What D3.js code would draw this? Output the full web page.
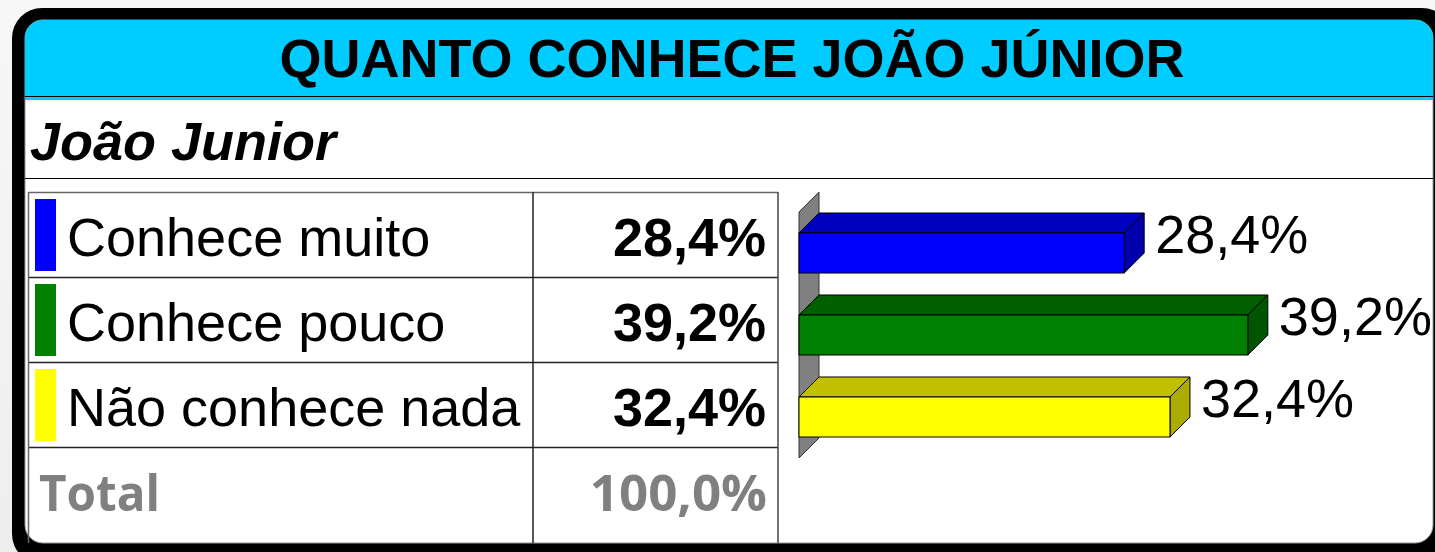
<!DOCTYPE html>
<html>
<head>
<meta charset="utf-8">
<script src="https://cdn.jsdelivr.net/npm/d3@7"></script>
<style>
  body { margin: 0; background: #f1f1f1; }
  svg { display: block; }
</style>
</head>
<body>
<script>
// chart data
var title = "QUANTO CONHECE JOÃO JÚNIOR"
var subtitle = "João Junior"
var categories = ["Conhece muito", "Conhece pouco", "Não conhece nada"]
var values = [28.4, 39.2, 32.4]
var totalLabel = "Total"

var width = 1435, height = 552

var fmt = function(v) { return v.toFixed(1).replace(".", ",") + "%" }

var color = d3.scaleOrdinal()
    .domain(categories)
    .range(["#0000FF", "#008000", "#FFFF00"])

var svg = d3.select("body").append("svg")
    .attr("width", width)
    .attr("height", height)

// soft background
var grad = svg.append("defs").append("linearGradient")
    .attr("id", "bg").attr("x1", 0).attr("y1", 0).attr("x2", 0).attr("y2", 1)
grad.append("stop").attr("offset", 0).attr("stop-color", "#f7f7f7")
grad.append("stop").attr("offset", 1).attr("stop-color", "#eeeeee")
svg.append("rect").attr("width", width).attr("height", height).attr("fill", "url(#bg)")

// frame
svg.append("rect")
    .attr("x", 12).attr("y", 8)
    .attr("width", 1440).attr("height", 556)
    .attr("rx", 30)
    .attr("fill", "#000")

svg.append("rect")
    .attr("x", 25).attr("y", 20)
    .attr("width", 1408).attr("height", 523)
    .attr("rx", 18)
    .attr("fill", "#fff")
    .attr("stroke", "#999")
    .attr("stroke-width", 1)

// header band
var clip = svg.append("defs").append("clipPath").attr("id", "inner")
clip.append("rect").attr("x", 25).attr("y", 20).attr("width", 1408).attr("height", 523).attr("rx", 18)

svg.append("rect")
    .attr("clip-path", "url(#inner)")
    .attr("x", 25).attr("y", 20)
    .attr("width", 1408).attr("height", 80)
    .attr("fill", "#00CCFF")

svg.append("line")
    .attr("x1", 25).attr("x2", 1433)
    .attr("y1", 96.5).attr("y2", 96.5)
    .attr("stroke", "#000").attr("stroke-width", 1)

svg.append("text")
    .attr("x", 732).attr("y", 77)
    .attr("text-anchor", "middle")
    .style("font-family", "'Liberation Sans', Arial, sans-serif")
    .style("font-weight", "bold")
    .style("font-size", "54px")
    .text(title)

// subtitle
svg.append("text")
    .attr("x", 30).attr("y", 160)
    .style("font-family", "'Liberation Sans', Arial, sans-serif")
    .style("font-weight", "bold")
    .style("font-style", "italic")
    .style("font-size", "54px")
    .text(subtitle)

svg.append("line")
    .attr("x1", 25).attr("x2", 1433)
    .attr("y1", 178.5).attr("y2", 178.5)
    .attr("stroke", "#000").attr("stroke-width", 1)

// table
var rows = categories.concat([totalLabel])
var rowScale = d3.scaleBand()
    .domain(rows)
    .range([192, 532])

var tableLeft = 28, colDiv = 533, tableRight = 778

var tg = svg.append("g")

rows.forEach(function(r, i) {
  tg.append("line")
      .attr("x1", tableLeft).attr("x2", tableRight)
      .attr("y1", rowScale(r) + 0.5).attr("y2", rowScale(r) + 0.5)
      .attr("stroke", i == 0 ? "#666" : "#222").attr("stroke-width", 1.5)
})

tg.append("line")
    .attr("x1", tableLeft + 0.5).attr("x2", tableLeft + 0.5)
    .attr("y1", 192).attr("y2", 543)
    .attr("stroke", "#666").attr("stroke-width", 1.5)
tg.append("line")
    .attr("x1", colDiv).attr("x2", colDiv)
    .attr("y1", 192).attr("y2", 543)
    .attr("stroke", "#222").attr("stroke-width", 1.5)
tg.append("line")
    .attr("x1", tableRight).attr("x2", tableRight)
    .attr("y1", 192).attr("y2", 543)
    .attr("stroke", "#444").attr("stroke-width", 1.5)

// legend swatches
tg.selectAll(".swatch")
    .data(categories)
    .enter().append("rect")
    .attr("class", "swatch")
    .attr("x", 35)
    .attr("y", function(d) { return rowScale(d) + 7 })
    .attr("width", 21)
    .attr("height", rowScale.bandwidth() - 13)
    .attr("fill", function(d) { return color(d) })

tg.selectAll(".label")
    .data(categories)
    .enter().append("text")
    .attr("class", "label")
    .attr("x", 67)
    .attr("y", function(d) { return rowScale(d) + 64 })
    .style("font-family", "'Liberation Sans', Arial, sans-serif")
    .style("font-size", "54px")
    .text(function(d) { return d })

tg.selectAll(".val")
    .data(values)
    .enter().append("text")
    .attr("class", "val")
    .attr("x", 766)
    .attr("y", function(d, i) { return rowScale(categories[i]) + 64 })
    .attr("text-anchor", "end")
    .style("font-family", "'Liberation Sans', Arial, sans-serif")
    .style("font-weight", "bold")
    .style("font-size", "54px")
    .text(function(d) { return fmt(d) })

// total row
tg.append("text")
    .attr("x", 39)
    .attr("y", rowScale(totalLabel) + 64)
    .attr("textLength", 121)
    .attr("lengthAdjust", "spacingAndGlyphs")
    .style("font-family", "'Open Sans', sans-serif")
    .style("font-weight", "bold")
    .style("font-size", "51px")
    .attr("fill", "#808080")
    .text(totalLabel)

tg.append("text")
    .attr("x", 767)
    .attr("y", rowScale(totalLabel) + 64)
    .attr("text-anchor", "end")
    .style("font-family", "'Open Sans', sans-serif")
    .style("font-weight", "bold")
    .style("font-size", "51px")
    .attr("fill", "#808080")
    .text(fmt(d3.sum(values)))

// 3d bar chart
var depth = 20

var xScale = d3.scaleLinear()
    .domain([0, 40])
    .range([799, 1257])

var yScale = d3.scaleBand()
    .domain(categories)
    .range([212, 458])
    .paddingInner(0.512)
    .paddingOuter(0.256)

var cg = svg.append("g")

// back wall
var x0 = xScale(0)
cg.append("path")
    .attr("d", "M" + x0 + "," + yScale.range()[0] +
               "L" + (x0 + depth) + "," + (yScale.range()[0] - depth) +
               "L" + (x0 + depth) + "," + (yScale.range()[1] - depth) +
               "L" + x0 + "," + yScale.range()[1] + "Z")
    .attr("fill", "#808080")
    .attr("stroke", "#333")
    .attr("stroke-width", 1)

var bars = cg.selectAll(".bar")
    .data(categories)
    .enter().append("g")
    .attr("class", "bar")

// top face
bars.append("path")
    .attr("d", function(d, i) {
      var y = yScale(d), x1 = xScale(values[i])
      return "M" + x0 + "," + y + "L" + (x0 + depth) + "," + (y - depth) +
             "L" + (x1 + depth) + "," + (y - depth) + "L" + x1 + "," + y + "Z"
    })
    .attr("fill", function(d) { return d3.color(color(d)).darker(0.8) })
    .attr("stroke", "#000").attr("stroke-width", 1)

// side face
bars.append("path")
    .attr("d", function(d, i) {
      var y = yScale(d), x1 = xScale(values[i]), h = yScale.bandwidth()
      return "M" + x1 + "," + y + "L" + (x1 + depth) + "," + (y - depth) +
             "L" + (x1 + depth) + "," + (y + h - depth) + "L" + x1 + "," + (y + h) + "Z"
    })
    .attr("fill", function(d) { return d3.color(color(d)).darker(1.1) })
    .attr("stroke", "#000").attr("stroke-width", 1)

// front face
bars.append("rect")
    .attr("x", x0)
    .attr("y", function(d) { return yScale(d) })
    .attr("width", function(d, i) { return xScale(values[i]) - x0 })
    .attr("height", yScale.bandwidth())
    .attr("fill", function(d) { return color(d) })
    .attr("stroke", "#000").attr("stroke-width", 1)

bars.append("text")
    .attr("x", function(d, i) { return xScale(values[i]) + depth + 11 })
    .attr("y", function(d) { return yScale(d) + yScale.bandwidth() / 2 })
    .style("font-family", "'Liberation Sans', Arial, sans-serif")
    .style("font-size", "54px")
    .text(function(d, i) { return fmt(values[i]) })
</script>
</body>
</html>
